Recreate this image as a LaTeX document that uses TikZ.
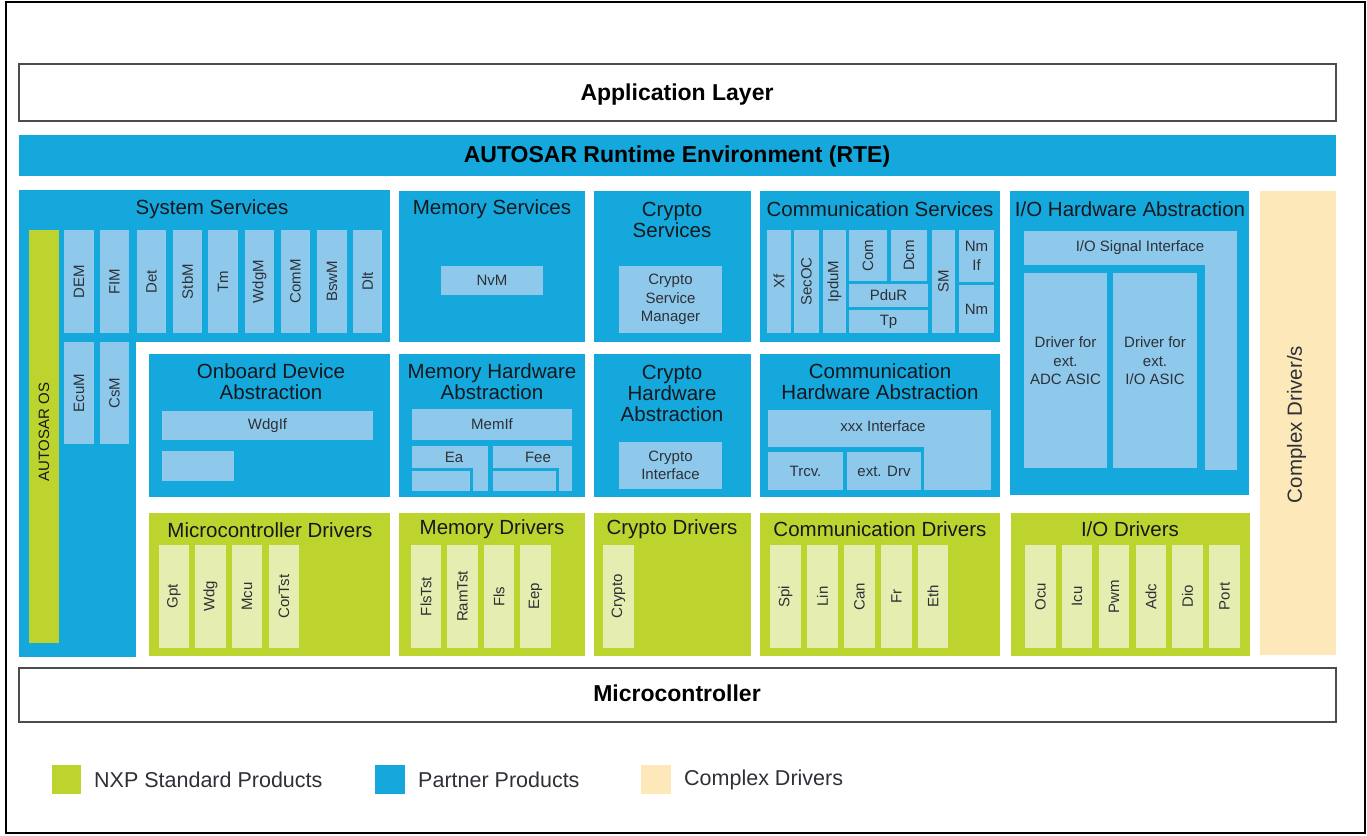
\documentclass[tikz,border=0pt]{standalone}
\usepackage{fontspec}
\setmainfont{Liberation Sans}
\usetikzlibrary{fit}
\definecolor{pblue}{RGB}{20,168,220}
\definecolor{lblue}{RGB}{142,201,235}
\definecolor{nxpgreen}{RGB}{190,212,46}
\definecolor{lgreen}{RGB}{230,237,176}
\definecolor{cream}{RGB}{253,232,186}
\definecolor{txt}{RGB}{22,24,30}
\definecolor{itxt}{RGB}{45,48,55}
\tikzset{
 blk/.style={inner sep=0pt, outer sep=0pt, draw=none},
 pb/.style={blk, fill=pblue},
 lb/.style={blk, fill=lblue},
 gb/.style={blk, fill=nxpgreen},
 lg/.style={blk, fill=lgreen},
 cb/.style={blk, fill=cream},
 ttl/.style={font=\fontsize{20.5}{21}\selectfont, text=txt, align=center, inner sep=0pt, yshift=-1.5pt},
 lbl/.style={font=\fontsize{15}{18.5}\selectfont, text=itxt, align=center, inner sep=0pt},
 vlbl/.style={lbl, rotate=90},
 hdr/.style={font=\bfseries\fontsize{23}{26}\selectfont, text=black, inner sep=0pt},
 lay/.style={blk, draw=black!70, line width=1.6pt, fill=white},
 frm/.style={blk, draw=black, line width=2pt},
 leg/.style={font=\fontsize{21.5}{24}\selectfont, text=itxt, inner sep=0pt, anchor=west},
}
\newcommand\bx[6]{\node[#6, fit={(#2,#3) (#4,#5)}] (#1) {};}
\begin{document}
\begin{tikzpicture}[x=1pt,y=-1pt]
\useasboundingbox (0,0) rectangle (1367,835);
\bx{frame}{6}{1.5}{1365}{833}{frm}
% layers
\bx{app}{19}{64}{1336}{121}{lay}
\node[hdr] at (677,95) {Application Layer};
\bx{rte}{19}{135}{1336}{176}{pb}
\node[hdr] at (677,157) {AUTOSAR Runtime Environment (RTE)};
\bx{mcu}{19}{668}{1336}{722}{lay}
\node[hdr] at (677,693) {Microcontroller};

% System services
\bx{sysT}{19}{190}{390}{342}{pb}
\bx{sysL}{19}{190}{136}{657}{pb}
\node[ttl] at (212,208) {System Services};
\bx{os}{29}{230}{59}{643}{gb}
\node[lbl, rotate=90, text=txt] at (os.center |- 0,432) {AUTOSAR OS};
\bx{dem}{64}{230}{94}{333}{lb}
\bx{fim}{100}{230}{129}{333}{lb}
\bx{det}{137}{230}{166}{333}{lb}
\bx{stbm}{173}{230}{202}{333}{lb}
\bx{tm}{208}{230}{238}{333}{lb}
\bx{wdgm}{245}{230}{274}{333}{lb}
\bx{comm}{281}{230}{310}{333}{lb}
\bx{bswm}{317}{230}{347}{333}{lb}
\bx{dlt}{353}{230}{382}{333}{lb}
\bx{ecum}{64}{342}{94}{444}{lb}
\bx{csm}{100}{342}{129}{444}{lb}
\node[vlbl] at (dem) {DEM};
\node[vlbl] at (fim) {FIM};
\node[vlbl] at (det) {Det};
\node[vlbl] at (stbm) {StbM};
\node[vlbl] at (tm) {Tm};
\node[vlbl] at (wdgm) {WdgM};
\node[vlbl] at (comm) {ComM};
\node[vlbl] at (bswm) {BswM};
\node[vlbl] at (dlt) {Dlt};
\node[vlbl] at (ecum) {EcuM};
\node[vlbl] at (csm) {CsM};

% Onboard device abstraction
\bx{oda}{149}{354}{390}{497}{pb}
\node[ttl] at (271,380) {Onboard Device\\Abstraction};
\bx{wdgif}{162}{411}{373}{440}{lb}
\node[lbl] at (wdgif) {WdgIf};
\bx{odaE}{162}{451}{234}{481}{lb}

% Memory services
\bx{mems}{399}{191}{585}{342}{pb}
\node[ttl] at (492,208) {Memory Services};
\bx{nvm}{441}{266}{543}{295}{lb}
\node[lbl] at (nvm) {NvM};

% Crypto services
\bx{crs}{594}{191}{751}{342}{pb}
\node[ttl] at (672,218.5) {Crypto\\Services};
\bx{csmgr}{619}{266}{722}{333}{lb}
\node[lbl] at (csmgr) {Crypto\\Service\\Manager};

% Memory HW abstraction
\bx{memha}{399}{354}{585}{497}{pb}
\node[ttl] at (492,380) {Memory Hardware\\Abstraction};
\bx{memif}{412}{409}{572}{440}{lb}
\node[lbl] at (memif) {MemIf};
\bx{eaT}{412}{446}{488}{468}{lb}
\bx{eaR}{473}{446}{488}{491}{lb}
\bx{eaI}{412}{471}{470}{491}{lb}
\node[lbl] at (454,457) {Ea};
\bx{feeT}{493}{446}{572}{468}{lb}
\bx{feeR}{559}{446}{572}{491}{lb}
\bx{feeI}{493}{471}{556}{491}{lb}
\node[lbl] at (538,457) {Fee};

% Crypto HW abstraction
\bx{crha}{594}{354}{751}{497}{pb}
\node[ttl] at (672,391.5) {Crypto\\Hardware\\Abstraction};
\bx{crif}{619}{442}{722}{489}{lb}
\node[lbl] at (crif) {Crypto\\Interface};

% Communication services
\bx{coms}{760}{191}{1000}{342}{pb}
\node[ttl] at (880,208) {Communication Services};
\bx{xf}{767}{230}{791}{333}{lb}
\bx{secoc}{794}{230}{819}{333}{lb}
\bx{ipdum}{823}{230}{846}{333}{lb}
\bx{com}{849}{230}{887}{281}{lb}
\bx{dcm}{891}{230}{927}{281}{lb}
\bx{pdur}{849}{284}{928}{307}{lb}
\bx{tp}{849}{310}{928}{333}{lb}
\bx{sm}{932}{230}{955}{333}{lb}
\bx{nmif}{959}{230}{994}{282}{lb}
\bx{nm}{959}{285}{994}{333}{lb}
\node[vlbl] at (xf) {Xf};
\node[vlbl] at (secoc) {SecOC};
\node[vlbl] at (ipdum) {IpduM};
\node[vlbl] at (com) {Com};
\node[vlbl] at (dcm) {Dcm};
\node[lbl] at (pdur) {PduR};
\node[lbl] at (tp) {Tp};
\node[vlbl] at (sm) {SM};
\node[lbl] at (nmif) {Nm\\If};
\node[lbl] at (nm) {Nm};

% Communication HW abstraction
\bx{comha}{760}{354}{1000}{497}{pb}
\node[ttl] at (880,380) {Communication\\Hardware Abstraction};
\bx{xxxT}{768}{410}{991}{447}{lb}
\bx{xxxR}{924}{410}{991}{490}{lb}
\node[lbl] at (883,426) {xxx Interface};
\bx{trcv}{768}{452}{843}{490}{lb}
\bx{extdrv}{847}{452}{921}{490}{lb}
\node[lbl] at (trcv) {Trcv.};
\node[lbl] at (extdrv) {ext. Drv};

% I/O HW abstraction
\bx{ioha}{1010}{191}{1249}{495}{pb}
\node[ttl] at (1130,208) {I/O Hardware Abstraction};
\bx{iosT}{1024}{231}{1237}{265}{lb}
\bx{iosR}{1205}{231}{1237}{470}{lb}
\node[lbl] at (1140,248) {I/O Signal Interface};
\bx{adcasic}{1024}{273}{1107}{468}{lb}
\bx{ioasic}{1113}{273}{1197}{468}{lb}
\node[lbl] at (adcasic.center |- 0,361) {Driver for\\ext.\\ADC ASIC};
\node[lbl] at (ioasic.center |- 0,361) {Driver for\\ext.\\I/O ASIC};

% Complex drivers
\bx{cdrv}{1260}{191}{1336}{655}{cb}
\node[ttl, rotate=90, text=itxt, yshift=1.5pt] at (cdrv) {Complex Driver/s};

% Drivers
\bx{mcdrv}{149}{513}{390}{656}{gb}
\node[ttl] at (270,529) {Microcontroller Drivers};
\bx{gpt}{159}{545}{189}{648}{lg}
\bx{wdg}{195}{545}{226}{648}{lg}
\bx{mcuD}{232}{545}{262}{648}{lg}
\bx{cortst}{269}{545}{299}{648}{lg}
\node[vlbl] at (gpt) {Gpt};
\node[vlbl] at (wdg) {Wdg};
\node[vlbl] at (mcuD) {Mcu};
\node[vlbl] at (cortst) {CorTst};

\bx{memdrv}{399}{513}{585}{656}{gb}
\node[ttl] at (492,528) {Memory Drivers};
\bx{flstst}{411}{545}{441}{648}{lg}
\bx{ramtst}{447}{545}{478}{648}{lg}
\bx{fls}{484}{545}{514}{648}{lg}
\bx{eep}{520}{545}{551}{648}{lg}
\node[vlbl] at (flstst) {FlsTst};
\node[vlbl] at (ramtst) {RamTst};
\node[vlbl] at (fls) {Fls};
\node[vlbl] at (eep) {Eep};

\bx{crdrv}{594}{513}{751}{656}{gb}
\node[ttl] at (672,528) {Crypto Drivers};
\bx{crypto}{603}{545}{634}{648}{lg}
\node[vlbl] at (crypto) {Crypto};

\bx{comdrv}{760}{513}{1000}{656}{gb}
\node[ttl] at (880,528) {Communication Drivers};
\bx{spi}{770}{545}{801}{648}{lg}
\bx{lin}{807}{545}{838}{648}{lg}
\bx{can}{844}{545}{875}{648}{lg}
\bx{fr}{881}{545}{912}{648}{lg}
\bx{eth}{918}{545}{948}{648}{lg}
\node[vlbl] at (spi) {Spi};
\node[vlbl] at (lin) {Lin};
\node[vlbl] at (can) {Can};
\node[vlbl] at (fr) {Fr};
\node[vlbl] at (eth) {Eth};

\bx{iodrv}{1011}{513}{1250}{656}{gb}
\node[ttl] at (1130,528) {I/O Drivers};
\bx{ocu}{1025}{545}{1056}{648}{lg}
\bx{icu}{1062}{545}{1092}{648}{lg}
\bx{pwm}{1099}{545}{1129}{648}{lg}
\bx{adc}{1136}{545}{1166}{648}{lg}
\bx{dio}{1172}{545}{1203}{648}{lg}
\bx{port}{1209}{545}{1240}{648}{lg}
\node[vlbl] at (ocu) {Ocu};
\node[vlbl] at (icu) {Icu};
\node[vlbl] at (pwm) {Pwm};
\node[vlbl] at (adc) {Adc};
\node[vlbl] at (dio) {Dio};
\node[vlbl] at (port) {Port};

% Legend
\bx{lg1}{52}{765}{81}{794}{gb}
\node[leg] at (94,780) {NXP Standard Products};
\bx{lg2}{375}{765}{405}{794}{pb}
\node[leg] at (418,780) {Partner Products};
\bx{lg3}{641}{765}{671}{794}{cb}
\node[leg] at (684,780) {Complex Drivers};
\end{tikzpicture}
\end{document}
